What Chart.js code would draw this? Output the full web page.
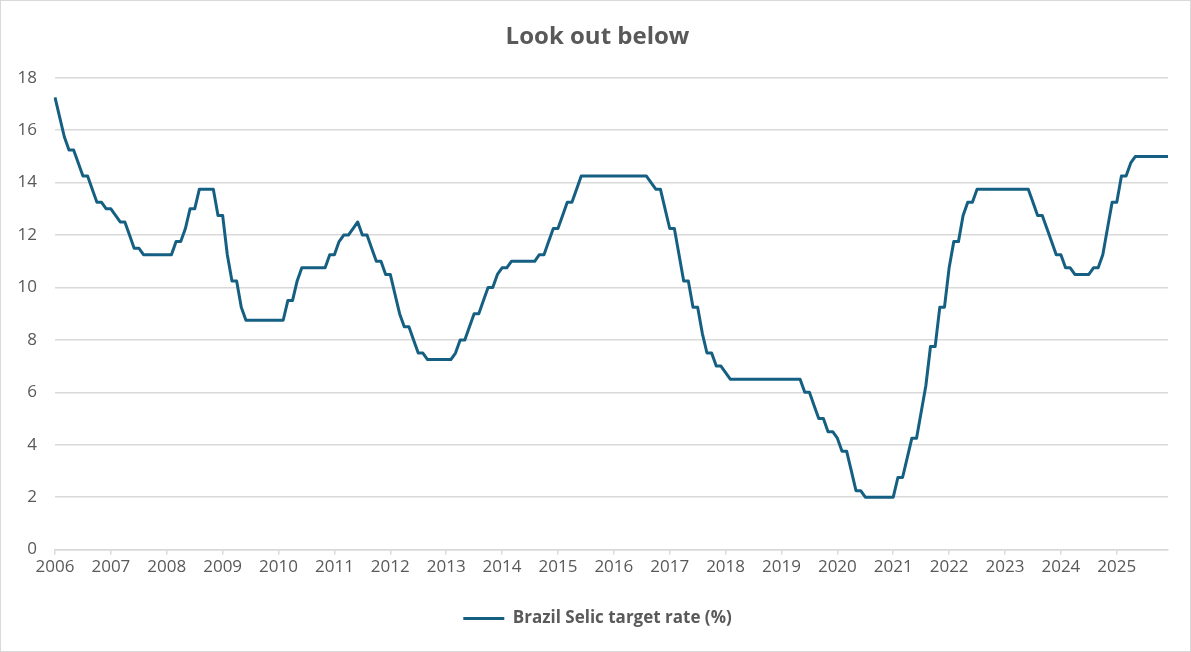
<!DOCTYPE html>
<html>
<head>
<meta charset="utf-8">
<script src="https://cdn.jsdelivr.net/npm/chart.js@4"></script>
<style>
  html, body { margin: 0; padding: 0; background: #fff; }
  #wrap { width: 1191px; height: 652px; box-sizing: border-box; border: 1px solid #d9d9d9; }
  #wrap canvas { display: block; }
</style>
</head>
<body>
<div id="wrap"><canvas id="selicChart" width="1189" height="650"></canvas></div>
<script>
// Years on the x axis, one label per January
const years = ['2006', '2007', '2008', '2009', '2010', '2011', '2012', '2013', '2014', '2015',
  '2016', '2017', '2018', '2019', '2020', '2021', '2022', '2023', '2024', '2025'];

// Monthly Selic target rate (%), one row per year
const rate2006 = [17.25, 16.5, 15.75, 15.25, 15.25, 14.75, 14.25, 14.25, 13.75, 13.25, 13.25, 13.0];
const rate2007 = [13.0, 12.75, 12.5, 12.5, 12.0, 11.5, 11.5, 11.25, 11.25, 11.25, 11.25, 11.25];
const rate2008 = [11.25, 11.25, 11.75, 11.75, 12.25, 13.0, 13.0, 13.75, 13.75, 13.75, 13.75, 12.75];
const rate2009 = [12.75, 11.25, 10.25, 10.25, 9.25, 8.75, 8.75, 8.75, 8.75, 8.75, 8.75, 8.75];
const rate2010 = [8.75, 8.75, 9.5, 9.5, 10.25, 10.75, 10.75, 10.75, 10.75, 10.75, 10.75, 11.25];
const rate2011 = [11.25, 11.75, 12.0, 12.0, 12.25, 12.5, 12.0, 12.0, 11.5, 11.0, 11.0, 10.5];
const rate2012 = [10.5, 9.75, 9.0, 8.5, 8.5, 8.0, 7.5, 7.5, 7.25, 7.25, 7.25, 7.25];
const rate2013 = [7.25, 7.25, 7.5, 8.0, 8.0, 8.5, 9.0, 9.0, 9.5, 10.0, 10.0, 10.5];
const rate2014 = [10.75, 10.75, 11.0, 11.0, 11.0, 11.0, 11.0, 11.0, 11.25, 11.25, 11.75, 12.25];
const rate2015 = [12.25, 12.75, 13.25, 13.25, 13.75, 14.25, 14.25, 14.25, 14.25, 14.25, 14.25, 14.25];
const rate2016 = [14.25, 14.25, 14.25, 14.25, 14.25, 14.25, 14.25, 14.25, 14.0, 13.75, 13.75, 13.0];
const rate2017 = [12.25, 12.25, 11.25, 10.25, 10.25, 9.25, 9.25, 8.25, 7.5, 7.5, 7.0, 7.0];
const rate2018 = [6.75, 6.5, 6.5, 6.5, 6.5, 6.5, 6.5, 6.5, 6.5, 6.5, 6.5, 6.5];
const rate2019 = [6.5, 6.5, 6.5, 6.5, 6.5, 6.0, 6.0, 5.5, 5.0, 5.0, 4.5, 4.5];
const rate2020 = [4.25, 3.75, 3.75, 3.0, 2.25, 2.25, 2.0, 2.0, 2.0, 2.0, 2.0, 2.0];
const rate2021 = [2.0, 2.75, 2.75, 3.5, 4.25, 4.25, 5.25, 6.25, 7.75, 7.75, 9.25, 9.25];
const rate2022 = [10.75, 11.75, 11.75, 12.75, 13.25, 13.25, 13.75, 13.75, 13.75, 13.75, 13.75, 13.75];
const rate2023 = [13.75, 13.75, 13.75, 13.75, 13.75, 13.75, 13.25, 12.75, 12.75, 12.25, 11.75, 11.25];
const rate2024 = [11.25, 10.75, 10.75, 10.5, 10.5, 10.5, 10.5, 10.75, 10.75, 11.25, 12.25, 13.25];
const rate2025 = [13.25, 14.25, 14.25, 14.75, 15.0, 15.0, 15.0, 15.0, 15.0, 15.0, 15.0, 15.0];

// y axis ticks
const yTicks = [0, 2, 4, 6, 8, 10, 12, 14, 16, 18];

const selic = [].concat(rate2006, rate2007, rate2008, rate2009, rate2010, rate2011, rate2012,
  rate2013, rate2014, rate2015, rate2016, rate2017, rate2018, rate2019, rate2020, rate2021,
  rate2022, rate2023, rate2024, rate2025);

// month labels like 2006-01
const months = [];
years.forEach(y => {
  for (let m = 1; m <= 12; m++) months.push(y + '-' + String(m).padStart(2, '0'));
});

const lineColor = '#156082';
const textColor = '#595959';
const gridColor = '#d9d9d9';
const fontFamily = "'Open Sans', 'Noto Sans', sans-serif";

// title and legend sit a little right of centre in the original
const nudgeBoxes = {
  id: 'nudgeBoxes',
  afterLayout(chart) {
    [chart.titleBlock, chart.legend].forEach(box => {
      if (!box) return;
      box.left += 13;
      box.right += 13;
    });
  }
};

new Chart(document.getElementById('selicChart'), {
  type: 'line',
  data: {
    labels: months,
    datasets: [{
      label: 'Brazil Selic target rate (%)',
      data: selic,
      borderColor: lineColor,
      backgroundColor: lineColor,
      borderWidth: 3,
      pointRadius: 0,
      pointStyle: 'line',
      tension: 0,
      borderJoinStyle: 'round'
    }]
  },
  options: {
    responsive: false,
    animation: false,
    layout: { padding: { left: 0, right: 22, top: 0, bottom: 14 } },
    plugins: {
      title: {
        display: true,
        text: 'Look out below',
        color: textColor,
        font: { family: fontFamily, size: 24, weight: 'bold' },
        padding: { top: 22, bottom: 26 }
      },
      legend: {
        position: 'bottom',
        labels: {
          color: textColor,
          font: { family: fontFamily, size: 17, weight: 'bold' },
          usePointStyle: true,
          pointStyleWidth: 41,
          boxHeight: 15,
          padding: 20
        }
      },
      tooltip: { enabled: false }
    },
    scales: {
      x: {
        type: 'category',
        offset: false,
        afterFit: axis => { axis.height += 11; },
        grid: {
          drawOnChartArea: false,
          drawTicks: true,
          tickLength: 5,
          lineWidth: 1.5,
          color: ctx => (ctx.index % 12 === 0 ? gridColor : 'rgba(0,0,0,0)')
        },
        border: { color: gridColor, width: 1.5 },
        ticks: {
          autoSkip: false,
          maxRotation: 0,
          minRotation: 0,
          padding: 2,
          color: textColor,
          font: { family: fontFamily, size: 17 },
          callback: function (value, index) {
            return index % 12 === 0 ? this.getLabelForValue(value).slice(0, 4) : '';
          }
        }
      },
      y: {
        min: yTicks[0],
        max: yTicks[yTicks.length - 1],
        afterBuildTicks: axis => { axis.ticks = yTicks.map(v => ({ value: v })); },
        afterFit: axis => { axis.width = 54; },
        grid: { color: gridColor, lineWidth: 1.5, drawTicks: false },
        border: { display: false },
        ticks: {
          padding: 18,
          color: textColor,
          font: { family: fontFamily, size: 17 }
        }
      }
    }
  },
  plugins: [nudgeBoxes]
});
</script>
</body>
</html>
